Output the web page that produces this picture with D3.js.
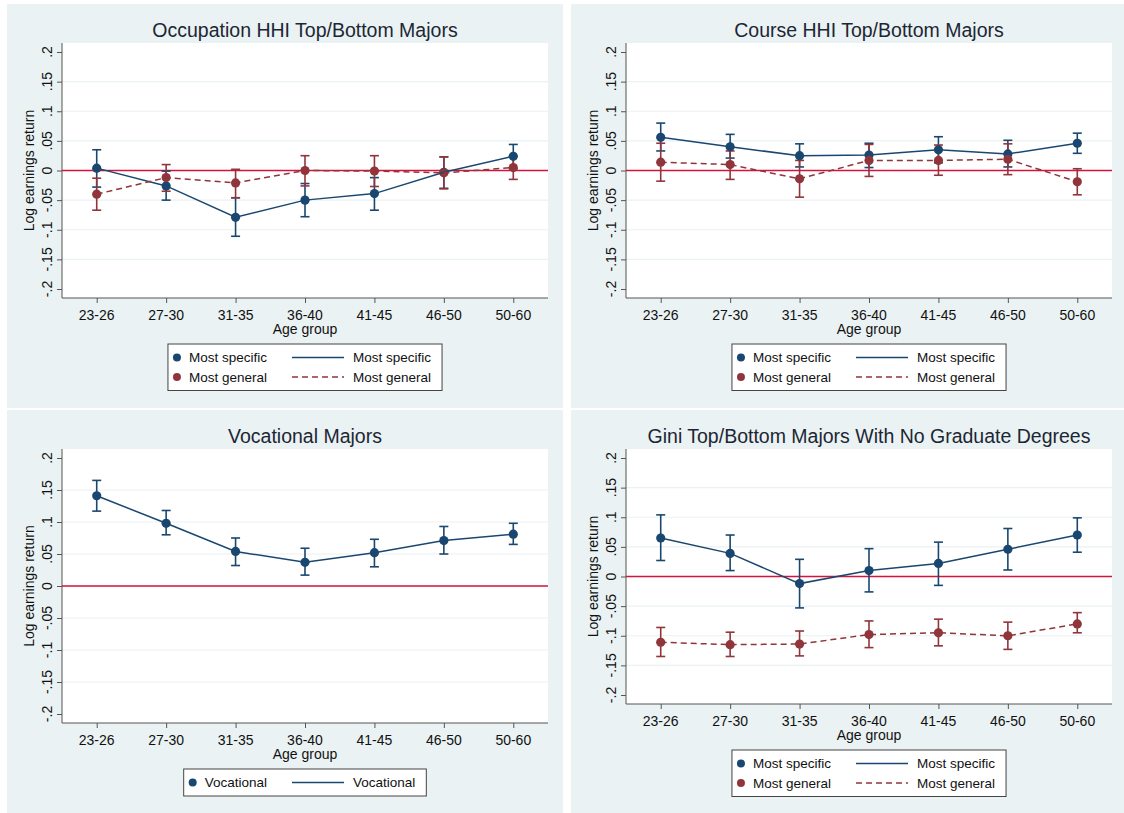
<!DOCTYPE html>
<html>
<head>
<meta charset="utf-8">
<title>Log earnings return by age group</title>
<style>
  body { margin: 0; background: #fff; }
  text { font-family: "Liberation Sans", Arial, sans-serif; fill: #111; }
</style>
</head>
<body>
<svg id="chart" width="1124" height="813"></svg>
<script src="https://d3js.org/d3.v7.min.js"></script>
<script>
// categories and axis ticks
var ageGroups = ["23-26", "27-30", "31-35", "36-40", "41-45", "46-50", "50-60"];
var yTicks = [-0.2, -0.15, -0.1, -0.05, 0, 0.05, 0.1, 0.15, 0.2];
var yTickLabels = ["-.2", "-.15", "-.1", "-.05", "0", ".05", ".1", ".15", ".2"];

// Occupation HHI
var occSpecific   = [0.004, -0.026, -0.079, -0.050, -0.039, -0.003, 0.024];
var occSpecificLo = [-0.028, -0.050, -0.111, -0.078, -0.067, -0.030, 0.003];
var occSpecificHi = [0.035, -0.001, -0.046, -0.022, -0.012, 0.023, 0.044];
var occGeneral    = [-0.040, -0.012, -0.021, 0.000, -0.001, -0.004, 0.005];
var occGeneralLo  = [-0.067, -0.035, -0.046, -0.026, -0.027, -0.031, -0.015];
var occGeneralHi  = [-0.013, 0.010, 0.002, 0.025, 0.025, 0.023, 0.024];

// Course HHI
var crsSpecific   = [0.056, 0.040, 0.025, 0.026, 0.035, 0.028, 0.046];
var crsSpecificLo = [0.033, 0.021, 0.006, 0.005, 0.013, 0.006, 0.029];
var crsSpecificHi = [0.080, 0.061, 0.045, 0.046, 0.057, 0.051, 0.063];
var crsGeneral    = [0.014, 0.010, -0.014, 0.017, 0.017, 0.019, -0.019];
var crsGeneralLo  = [-0.018, -0.015, -0.045, -0.010, -0.008, -0.007, -0.041];
var crsGeneralHi  = [0.046, 0.033, 0.017, 0.044, 0.043, 0.045, 0.003];

// Vocational
var voc   = [0.141, 0.098, 0.054, 0.037, 0.052, 0.071, 0.081];
var vocLo = [0.117, 0.080, 0.032, 0.017, 0.030, 0.050, 0.065];
var vocHi = [0.165, 0.118, 0.075, 0.059, 0.073, 0.093, 0.098];

// Gini, no graduate degrees
var giniSpecific   = [0.065, 0.039, -0.012, 0.010, 0.022, 0.046, 0.070];
var giniSpecificLo = [0.027, 0.010, -0.053, -0.026, -0.015, 0.011, 0.041];
var giniSpecificHi = [0.104, 0.070, 0.029, 0.047, 0.058, 0.081, 0.099];
var giniGeneral    = [-0.111, -0.115, -0.114, -0.098, -0.095, -0.100, -0.080];
var giniGeneralLo  = [-0.135, -0.135, -0.134, -0.120, -0.117, -0.123, -0.095];
var giniGeneralHi  = [-0.086, -0.094, -0.092, -0.075, -0.072, -0.077, -0.061];

var navy = "#1a476f";
var maroon = "#90353b";
var bg = "#eaf2f3";

function series(name, vals, lo, hi, color, dash) {
  return { name: name, vals: vals, lo: lo, hi: hi, color: color, dash: dash };
}

var panels = [
  { title: "Occupation HHI Top/Bottom Majors", x: 7, y: 4, w: 556, h: 404, plotB: 294,
    series: [series("Most specific", occSpecific, occSpecificLo, occSpecificHi, navy, null),
             series("Most general", occGeneral, occGeneralLo, occGeneralHi, maroon, "6,4")] },
  { title: "Course HHI Top/Bottom Majors", x: 571, y: 4, w: 553, h: 404, plotB: 294,
    series: [series("Most specific", crsSpecific, crsSpecificLo, crsSpecificHi, navy, null),
             series("Most general", crsGeneral, crsGeneralLo, crsGeneralHi, maroon, "6,4")] },
  { title: "Vocational Majors", x: 7, y: 410, w: 556, h: 403, plotB: 313,
    series: [series("Vocational", voc, vocLo, vocHi, navy, null)] },
  { title: "Gini Top/Bottom Majors With No Graduate Degrees", x: 571, y: 410, w: 553, h: 403, plotB: 294,
    series: [series("Most specific", giniSpecific, giniSpecificLo, giniSpecificHi, navy, null),
             series("Most general", giniGeneral, giniGeneralLo, giniGeneralHi, maroon, "6,4")] }
];

var svg = d3.select("#chart");
var plotL = 55, plotR = 541, plotT = 39;

panels.forEach(function(p) {
  var g = svg.append("g").attr("transform", "translate(" + p.x + "," + p.y + ")");
  g.append("rect").attr("width", p.w).attr("height", p.h).attr("fill", bg);
  g.append("rect").attr("x", plotL).attr("y", plotT)
    .attr("width", plotR - plotL).attr("height", p.plotB - plotT).attr("fill", "#fff");

  var x = d3.scalePoint().domain(ageGroups).range([plotL, plotR]).padding(0.5);
  var y = d3.scaleLinear().domain([-0.2, 0.2]).range([p.plotB - 9, plotT + 9]);
  var cx = (plotL + plotR) / 2;

  // grid
  g.selectAll(".grid").data(yTicks.slice(1, -1)).enter().append("line")
    .attr("x1", plotL).attr("x2", plotR)
    .attr("y1", function(d) { return y(d); }).attr("y2", function(d) { return y(d); })
    .attr("stroke", bg).attr("stroke-width", 1.2);

  // axes
  var yAxis = g.append("g").attr("transform", "translate(" + plotL + ",0)")
    .call(d3.axisLeft(y).tickValues(yTicks).tickSize(5).tickFormat(""));
  var xAxis = g.append("g").attr("transform", "translate(0," + p.plotB + ")")
    .call(d3.axisBottom(x).tickSize(5).tickFormat(""));
  [yAxis, xAxis].forEach(function(a) {
    a.select(".domain").attr("stroke", "#555");
    a.selectAll(".tick line").attr("stroke", "#555");
  });
  // extend the axis lines over the full plot region
  yAxis.select(".domain").attr("d", "M0," + plotT + "V" + p.plotB);
  xAxis.select(".domain").attr("d", "M" + plotL + ",0H" + plotR);

  g.selectAll(".ylab").data(yTicks).enter().append("text")
    .attr("transform", function(d) { return "translate(" + (plotL - 10) + "," + y(d) + ") rotate(-90)"; })
    .attr("text-anchor", "middle").style("font-size", "14px")
    .text(function(d, i) { return yTickLabels[i]; });
  g.selectAll(".xlab").data(ageGroups).enter().append("text")
    .attr("x", function(d) { return x(d); }).attr("y", p.plotB + 22)
    .attr("text-anchor", "middle").style("font-size", "14px")
    .text(function(d) { return d; });

  g.append("text").attr("x", cx).attr("y", p.plotB + 36)
    .attr("text-anchor", "middle").style("font-size", "14px").text("Age group");
  g.append("text")
    .attr("transform", "translate(" + (plotL - 28) + "," + ((plotT + p.plotB) / 2) + ") rotate(-90)")
    .attr("text-anchor", "middle").style("font-size", "14px").text("Log earnings return");
  g.append("text").attr("x", cx).attr("y", 33)
    .attr("text-anchor", "middle").style("font-size", "19.5px").style("fill", "#1c2733")
    .text(p.title);

  // zero line
  g.append("line").attr("x1", plotL).attr("x2", plotR)
    .attr("y1", y(0)).attr("y2", y(0))
    .attr("stroke", "#d6133d").attr("stroke-width", 1.3);

  // confidence intervals
  p.series.forEach(function(s) {
    var ci = g.append("g").attr("stroke", s.color).attr("stroke-width", 1.6).attr("fill", "none");
    ageGroups.forEach(function(a, i) {
      ci.append("line").attr("x1", x(a)).attr("x2", x(a)).attr("y1", y(s.lo[i])).attr("y2", y(s.hi[i]));
      ci.append("line").attr("x1", x(a) - 4.5).attr("x2", x(a) + 4.5).attr("y1", y(s.lo[i])).attr("y2", y(s.lo[i]));
      ci.append("line").attr("x1", x(a) - 4.5).attr("x2", x(a) + 4.5).attr("y1", y(s.hi[i])).attr("y2", y(s.hi[i]));
    });
  });
  // markers
  p.series.forEach(function(s) {
    g.selectAll(null).data(s.vals).enter().append("circle")
      .attr("cx", function(d, i) { return x(ageGroups[i]); })
      .attr("cy", function(d) { return y(d); })
      .attr("r", 4.6).attr("fill", s.color);
  });
  // lines
  p.series.forEach(function(s) {
    var line = d3.line().x(function(d, i) { return x(ageGroups[i]); }).y(function(d) { return y(d); });
    g.append("path").attr("d", line(s.vals)).attr("fill", "none")
      .attr("stroke", s.color).attr("stroke-width", 1.5)
      .attr("stroke-dasharray", s.dash);
  });

  // legend
  var leg = g.append("g");
  var top = p.plotB + 46;
  var rowH = 19.5;
  var n = p.series.length;
  var items1 = [], items2 = [];
  p.series.forEach(function(s, i) {
    var cy = top + 13.5 + i * rowH;
    items1.push(leg.append("text").attr("y", cy + 4.8).style("font-size", "13.5px").text(s.name));
    items2.push(leg.append("text").attr("y", cy + 4.8).style("font-size", "13.5px").text(s.name));
  });
  var w1 = d3.max(items1, function(t) { return t.node().getComputedTextLength(); });
  var w2 = d3.max(items2, function(t) { return t.node().getComputedTextLength(); });
  var boxW = 21 + w1 + 25 + 52 + 9 + w2 + 11;
  var boxH = 27 + (n - 1) * rowH;
  var bx = cx - boxW / 2;
  leg.insert("rect", ":first-child").attr("x", bx).attr("y", top)
    .attr("width", boxW).attr("height", boxH)
    .attr("fill", "#fff").attr("stroke", "#444").attr("stroke-width", 1);
  p.series.forEach(function(s, i) {
    var cy = top + 13.5 + i * rowH;
    leg.append("circle").attr("cx", bx + 9).attr("cy", cy).attr("r", 4).attr("fill", s.color);
    items1[i].attr("x", bx + 21);
    var lx = bx + 21 + w1 + 25;
    leg.append("line").attr("x1", lx).attr("x2", lx + 52).attr("y1", cy).attr("y2", cy)
      .attr("stroke", s.color).attr("stroke-width", 1.5).attr("stroke-dasharray", s.dash);
    items2[i].attr("x", lx + 52 + 9);
  });
});
</script>
</body>
</html>
